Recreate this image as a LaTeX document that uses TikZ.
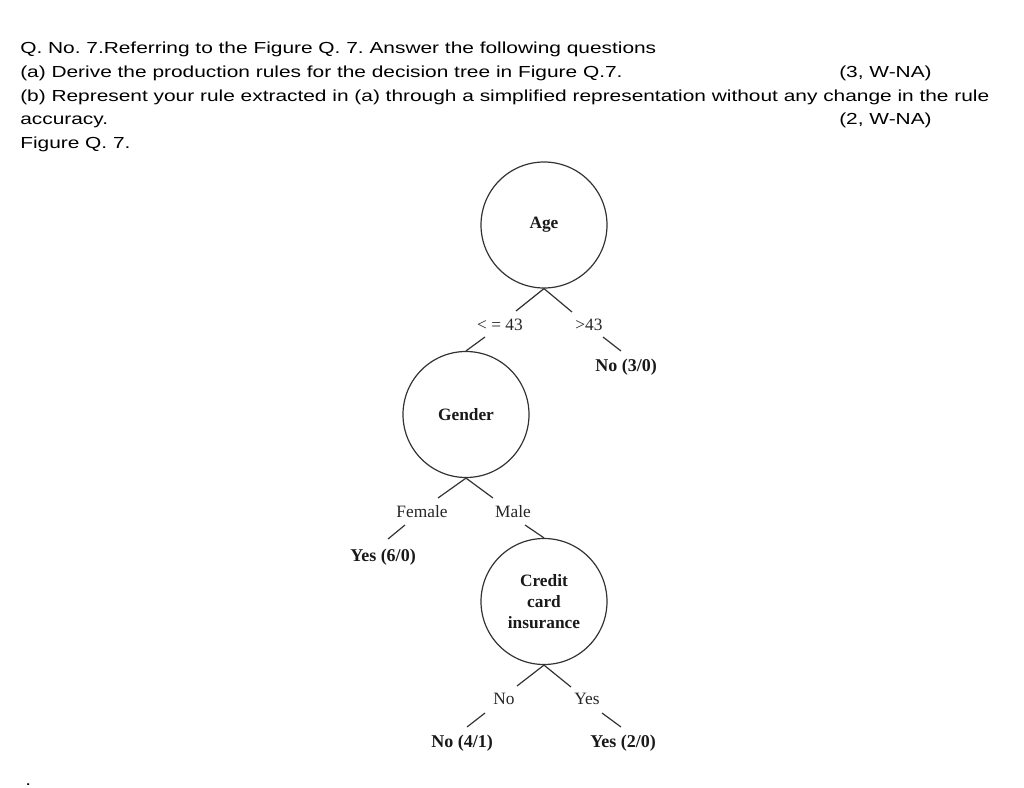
\documentclass[tikz,border=0pt]{standalone}
\usepackage{fontspec}
\setmainfont{Liberation Serif}
\newfontfamily\arialf[FakeStretch=1.305]{Liberation Sans}
\usetikzlibrary{calc}
\frenchspacing
\begin{document}
\begin{tikzpicture}[x=0.75pt,y=-0.75pt,
  hdr/.style={anchor=base west,inner sep=0pt,font=\arialf\fontsize{12pt}{14pt}\selectfont,text=black},
  tnode/.style={circle,draw=black!80,line width=0.9pt,minimum size=94.5pt,inner sep=0pt,
    font=\bfseries\fontsize{13pt}{15.75pt}\selectfont,align=center,text=black!90},
  blabel/.style={inner sep=0pt,font=\fontsize{13pt}{15pt}\selectfont,text=black!85},
  leaf/.style={inner sep=0pt,font=\bfseries\fontsize{13.5pt}{15pt}\selectfont,text=black!90},
  edge/.style={draw=black!80,line width=0.9pt}]
\useasboundingbox (0,0) rectangle (1024,788);
% header text
\node[hdr] (h1) at (20,53.3) {Q. No. 7.Referring to the Figure Q. 7. Answer the following questions};
\node[hdr] (h2) at (20,77.7) {(a) Derive the production rules for the decision tree in Figure Q.7.};
\node[hdr] (h2r) at (839,77.7) {(3, W-NA)};
\node[hdr] (h3) at (20,101.7) {(b) Represent your rule extracted in (a) through a simplified representation without any change in the rule};
\node[hdr] (h4) at (20,125) {accuracy.};
\node[hdr] (h4r) at (839,125) {(2, W-NA)};
\node[hdr] (h5) at (20,148.5) {Figure Q. 7.};
\node[hdr,text height=2pt,text depth=0pt] (dot) at (25,785) {.};
% tree nodes
\node[tnode] (age) at (544,225) {Age};
\node[blabel] (le43) at (500,325) {< = 43};
\node[blabel] (gt43) at (589,325) {>43};
\node[leaf] (no30) at (626,367) {No (3/0)};
\node[tnode] (gender) at (466,414.5) {Gender};
\node[blabel] (female) at (422,512) {Female};
\node[blabel] (male) at (513,512) {Male};
\node[leaf] (yes60) at (383,557) {Yes (6/0)};
\node[tnode] (credit) at (544,601.5) {Credit\\card\\insurance};
\node[blabel] (no) at (504,699) {No};
\node[blabel] (yes) at (587,699) {Yes};
\node[leaf] (no41) at (462,743) {No (4/1)};
\node[leaf] (yes20) at (623,743) {Yes (2/0)};
% connectors
\draw[edge] (age.south) -- ($(le43)+(16,-14)$);
\draw[edge] (age.south) -- ($(gt43)+(-17,-13)$);
\draw[edge] ($(le43)+(-15,12)$) -- (gender.north);
\draw[edge] ($(gt43)+(14,12)$) -- ($(no30)+(-5,-16)$);
\draw[edge] (gender.south) -- ($(female)+(16,-14)$);
\draw[edge] (gender.south) -- ($(male)+(-20,-14)$);
\draw[edge] ($(female)+(-17,13)$) -- ($(yes60)+(5,-18)$);
\draw[edge] ($(male)+(12,13)$) -- (credit.north);
\draw[edge] (credit.south) -- ($(no)+(13,-13)$);
\draw[edge] (credit.south) -- ($(yes)+(-16,-12)$);
\draw[edge] ($(no)+(-19,14)$) -- ($(no41)+(5,-16)$);
\draw[edge] ($(yes)+(15,14)$) -- ($(yes20)+(-2,-16)$);
\end{tikzpicture}
\end{document}
